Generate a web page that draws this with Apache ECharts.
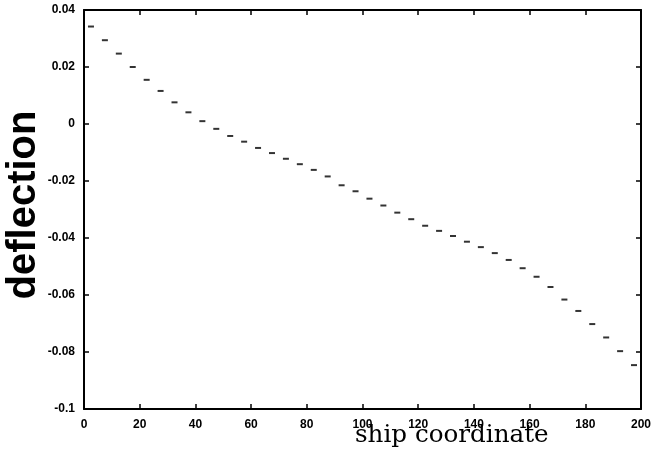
<!DOCTYPE html>
<html>
<head>
<meta charset="utf-8">
<script src="https://cdn.jsdelivr.net/npm/echarts@6/dist/echarts.min.js"></script>
<style>
html,body{margin:0;padding:0;background:#fff;}
#chart{width:654px;height:451px;}
</style>
</head>
<body>
<div id="chart"></div>
<script>
var shipCoordinate = [2.5,7.5,12.5,17.5,22.5,27.5,32.5,37.5,42.5,47.5,52.5,57.5,62.5,67.5,72.5,77.5,82.5,87.5,92.5,97.5,102.5,107.5,112.5,117.5,122.5,127.5,132.5,137.5,142.5,147.5,152.5,157.5,162.5,167.5,172.5,177.5,182.5,187.5,192.5,197.5];
var deflection = [0.0342,0.0294,0.0247,0.0200,0.0155,0.0116,0.0076,0.0041,0.0010,-0.0017,-0.0042,-0.0062,-0.0084,-0.0102,-0.0122,-0.0141,-0.0161,-0.0184,-0.0215,-0.0236,-0.0262,-0.0286,-0.0311,-0.0334,-0.0357,-0.0375,-0.0393,-0.0413,-0.0432,-0.0453,-0.0477,-0.0506,-0.0536,-0.0572,-0.0616,-0.0656,-0.0702,-0.0749,-0.0797,-0.0846];
var xTicks = [0,20,40,60,80,100,120,140,160,180,200];
var yTickLabels = ["-0.1","-0.08","-0.06","-0.04","-0.02","0","0.02","0.04"];
var xTitle = "ship coordinate";
var yTitle = "deflection";

var chart = echarts.init(document.getElementById('chart'), null, {renderer:'canvas'});
var tickFont = {color:'#000', fontFamily:'Liberation Sans, Arial, sans-serif', fontWeight:'bold', fontSize:12};
var lineStyle = {color:'#000', width:2};
function yLabel(v){
  var s = String(+v.toFixed(2));
  return yTickLabels.indexOf(s) >= 0 ? s : '';
}
chart.setOption({
  animation:false,
  backgroundColor:'#fff',
  grid:{left:84, right:13, top:10, bottom:42, containLabel:false},
  xAxis:[{
    type:'value', min:0, max:200, interval:20, position:'bottom',
    axisLine:{show:true, onZero:false, lineStyle:lineStyle},
    axisTick:{show:true, inside:true, length:5, lineStyle:{color:'#000', width:1.5}},
    axisLabel:Object.assign({margin:10, formatter:function(v){return xTicks.indexOf(v)>=0?String(v):'';}}, tickFont),
    splitLine:{show:false}
  },{
    type:'value', min:0, max:200, interval:20, position:'top',
    axisLine:{show:true, onZero:false, lineStyle:lineStyle},
    axisTick:{show:true, inside:true, length:5, lineStyle:{color:'#000', width:1.5}},
    axisLabel:{show:false}, splitLine:{show:false}
  }],
  yAxis:[{
    type:'value', min:-0.1, max:0.04, interval:0.02, position:'left',
    axisLine:{show:true, onZero:false, lineStyle:lineStyle},
    axisTick:{show:true, inside:true, length:5, lineStyle:{color:'#000', width:1.5}},
    axisLabel:Object.assign({margin:9, formatter:yLabel}, tickFont),
    splitLine:{show:false}
  },{
    type:'value', min:-0.1, max:0.04, interval:0.02, position:'right',
    axisLine:{show:true, onZero:false, lineStyle:lineStyle},
    axisTick:{show:true, inside:true, length:5, lineStyle:{color:'#000', width:1.5}},
    axisLabel:{show:false}, splitLine:{show:false}
  }],
  graphic:[{
    type:'text', left:355, top:423,
    style:{text:xTitle, fill:'#000', font:'24.6px "DejaVu Serif", serif'}
  },{
    type:'text', x:44, y:205, rotation:Math.PI/2,
    style:{text:yTitle, fill:'#000', font:'bold 40px "Liberation Sans", Arial, sans-serif', align:'center', verticalAlign:'bottom'}
  }],
  series:[{
    type:'scatter', xAxisIndex:0, yAxisIndex:0,
    data:shipCoordinate.map(function(x,i){return [x, deflection[i]];}),
    symbol:'rect', symbolSize:[6,2],
    itemStyle:{color:'#000'}
  }]
});
</script>
</body>
</html>
